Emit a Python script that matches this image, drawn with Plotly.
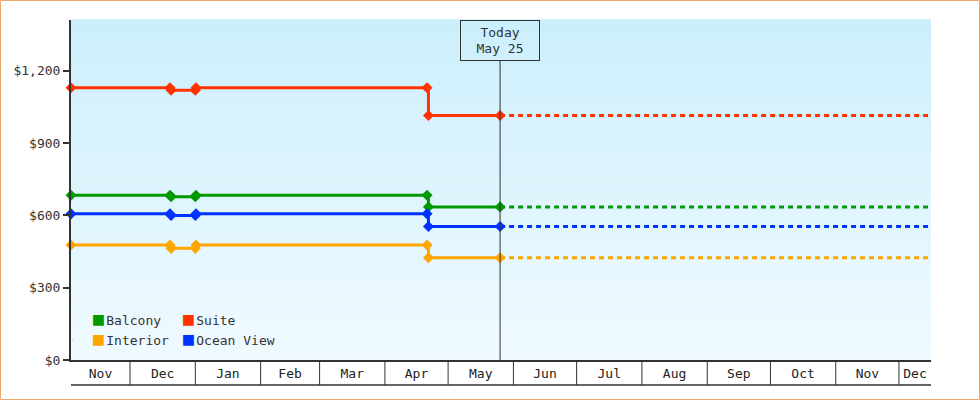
import plotly.graph_objects as go
import pandas as pd

# ---- data ----
obs_dates = ["2024-11-03", "2024-12-20", "2024-12-20 12:00", "2025-01-01",
             "2025-01-01 08:00", "2025-04-21", "2025-04-21 16:00", "2025-05-25 16:00"]
balcony = [683, 683, 677, 677, 683, 683, 635, 635]
suite = [1129, 1129, 1119, 1119, 1129, 1129, 1014, 1014]
interior = [477, 477, 463, 463, 477, 477, 424, 424]
ocean_view = [606, 606, 599, 599, 606, 606, 554, 554]
today = "2025-05-25 16:00"
today_label = "Today<br>May 25"
x_start = "2024-11-03"
x_end = "2025-12-16 05:00"
y_ticks = [0, 300, 600, 900, 1200]
y_tick_labels = ["$0", "$300", "$600", "$900", "$1,200"]
month_starts = pd.date_range("2024-11-01", "2025-12-01", freq="MS")

series = [
    ("Balcony", balcony, "#009900"),
    ("Suite", suite, "#FF3300"),
    ("Interior", interior, "#FFA500"),
    ("Ocean View", ocean_view, "#0033FF"),
]

FONT = "DejaVu Sans Mono"
fig = go.Figure()

for name, vals, col in series:
    fig.add_trace(go.Scatter(
        x=obs_dates, y=vals, mode="lines+markers", line=dict(color=col, width=3, shape="hv"),
        marker=dict(symbol="diamond", size=8.5, color=col), showlegend=False, cliponaxis=False,
        hoverinfo="skip"))
    fig.add_trace(go.Scatter(
        x=[today, x_end], y=[vals[-1], vals[-1]], mode="lines",
        line=dict(color=col, width=3, dash="5px,4px"), showlegend=False, hoverinfo="skip"))

# legend entries (two columns via two legends)
legend_map = {"Balcony": "legend", "Interior": "legend", "Suite": "legend2", "Ocean View": "legend2"}
for name, vals, col in series:
    fig.add_trace(go.Scatter(
        x=[None], y=[None], mode="markers", marker=dict(opacity=0, size=1),
        name=(f"<span style='color:{col};font-size:18px'>■</span>"
              f"<span style='font-size:4px'> </span>{name}"),
        legend=legend_map[name]))

# month cells
x0 = pd.Timestamp(x_start)
x1 = pd.Timestamp(x_end)
tickvals, ticktext = [], []
for i, ms in enumerate(month_starts):
    me = ms + pd.offsets.MonthBegin(1)
    a, b = max(ms, x0), min(me, x1)
    if b <= a:
        continue
    tickvals.append(a + (b - a) / 2)
    ticktext.append(ms.strftime("%b"))
    if x0 < ms < x1:
        fig.add_shape(type="line", xref="x", yref="paper", x0=ms, x1=ms, y0=0, y1=-25 / 340,
                      line=dict(color="#333333", width=1))
fig.add_shape(type="line", xref="paper", yref="paper", x0=0, x1=1, y0=-25 / 340, y1=-25 / 340,
              line=dict(color="#333333", width=1.5))

# gradient background bands
top = (204, 239, 252)
bot = (240, 250, 255)
n = 85
for i in range(n):
    t = i / (n - 1)
    c = tuple(round(bot[k] + (top[k] - bot[k]) * t) for k in range(3))
    fig.add_shape(type="rect", xref="paper", yref="paper", x0=0, x1=1,
                  y0=i / n, y1=(i + 1) / n + 0.002, layer="below", line=dict(width=0),
                  fillcolor=f"rgb{c}")

# today line and label
fig.add_shape(type="line", xref="x", yref="paper", x0=today, x1=today, y0=0, y1=(360 - 61) / 340,
              line=dict(color="#333333", width=1))
fig.add_annotation(x=today, y=1, xref="x", yref="paper", yanchor="top", xanchor="center",
                   text=today_label, showarrow=False, width=76, height=37, borderpad=1,
                   bordercolor="#333333", borderwidth=1, font=dict(family=FONT, size=13, color="#333333"))

# page border
fig.add_shape(type="rect", xref="paper", yref="paper",
              x0=(0.5 - 71) / 860, x1=(979.5 - 71) / 860, y0=(360 - 399.5) / 340, y1=(360 - 0.5) / 340,
              line=dict(color="#E9A96A", width=1), layer="below")

fig.update_layout(
    width=980, height=400,
    margin=dict(l=71, r=49, t=20, b=40),
    paper_bgcolor="white", plot_bgcolor="rgb(240,250,255)",
    font=dict(family=FONT, size=13, color="#333333"),
    legend=dict(x=(53 - 71) / 860, y=(360 - 305) / 340, xanchor="left", yanchor="top",
                bgcolor="rgba(0,0,0,0)", font=dict(family=FONT, size=13, color="#333333"),
                tracegroupgap=0, itemclick=False),
    legend2=dict(x=(143 - 71) / 860, y=(360 - 305) / 340, xanchor="left", yanchor="top",
                 bgcolor="rgba(0,0,0,0)", font=dict(family=FONT, size=13, color="#333333"),
                 tracegroupgap=0, itemclick=False),
    xaxis=dict(type="date", range=[x_start, x_end], showgrid=False, zeroline=False,
               showline=True, linecolor="#333333", linewidth=2,
               tickmode="array", tickvals=tickvals, ticktext=ticktext, ticks="",
               tickfont=dict(family=FONT, size=13, color="#222222")),
    yaxis=dict(range=[0, 1410], showgrid=False, zeroline=False, showline=True,
               linecolor="#333333", linewidth=2, ticks="outside", ticklen=6, tickwidth=2,
               tickcolor="#333333", tickmode="array", tickvals=y_ticks, ticktext=y_tick_labels,
               tickfont=dict(family=FONT, size=13, color="#333333")),
    hovermode=False,
)

fig.write_html("out.html", config={"displayModeBar": False},
               post_script="document.body.style.margin='0';")
